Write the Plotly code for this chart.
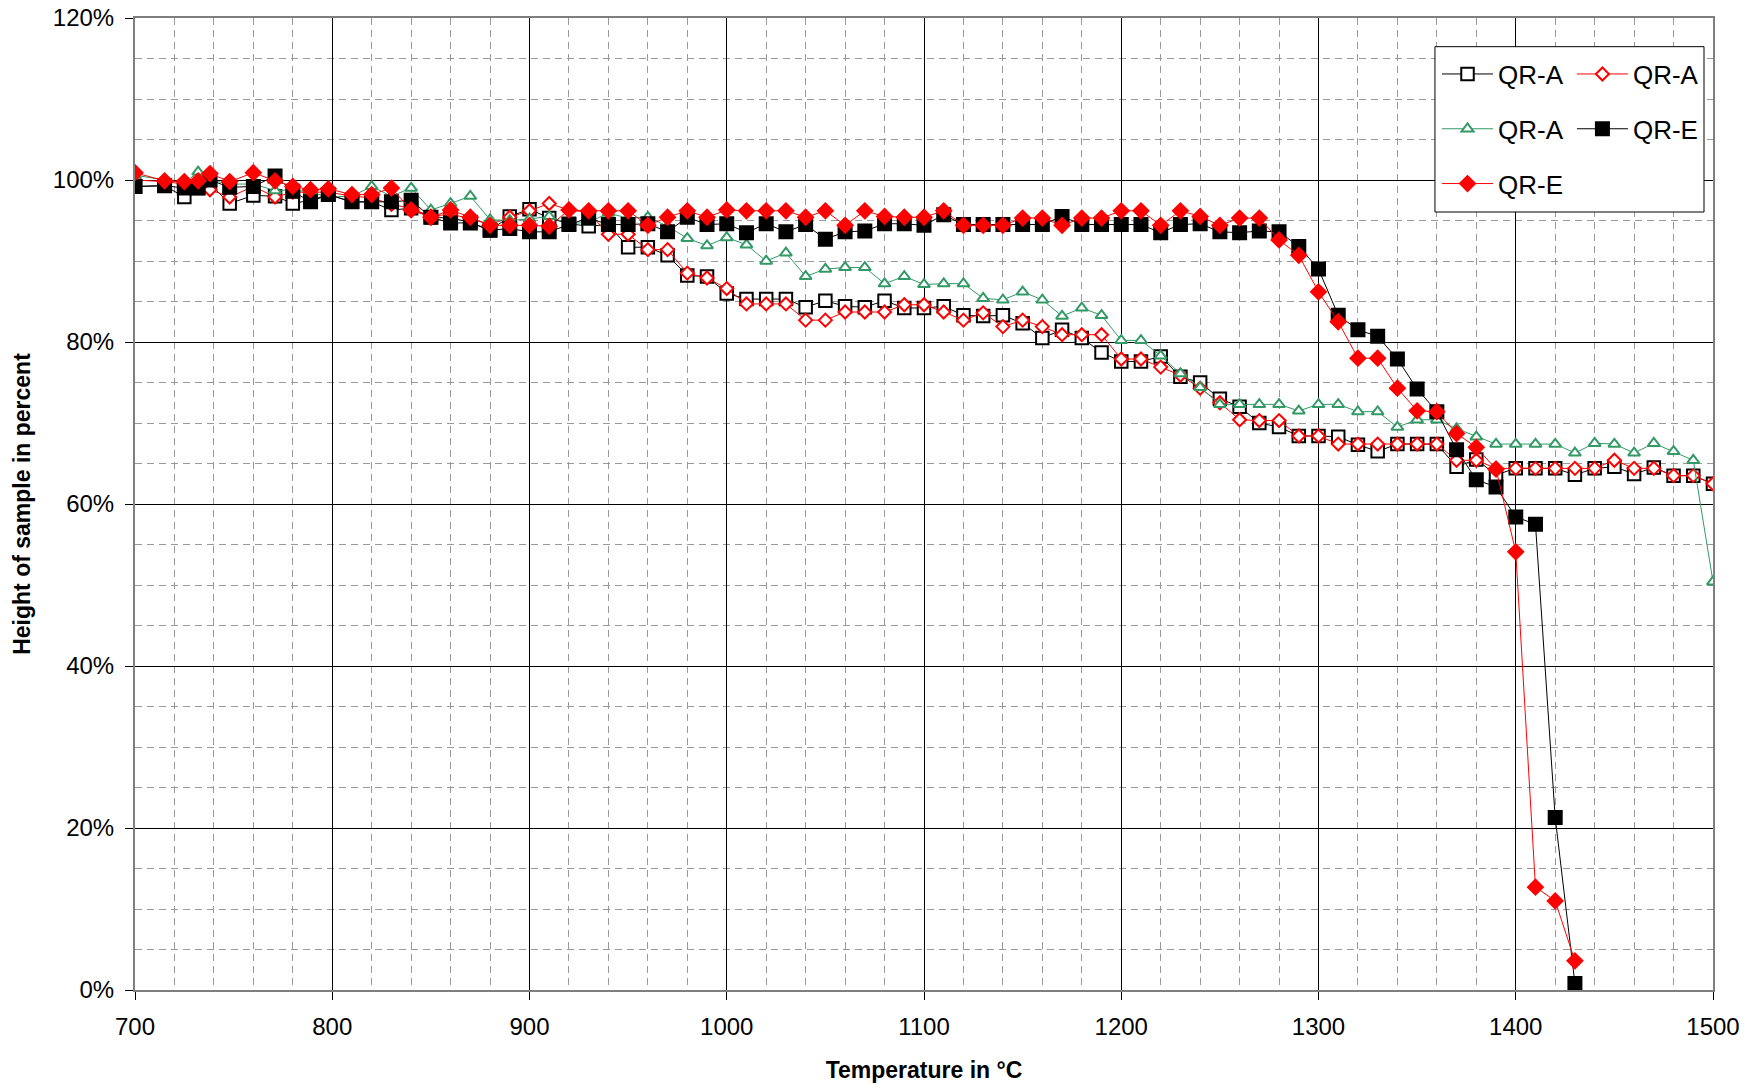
import plotly.graph_objects as go

# Temperatures (°C) of the measurement steps
temps = [700, 715, 725, 732, 738, 748, 760, 771, 780, 789, 798,
         810, 820, 830, 840, 850, 860, 870, 880, 890, 900,
         910, 920, 930, 940, 950, 960, 970, 980, 990, 1000,
         1010, 1020, 1030, 1040, 1050, 1060, 1070, 1080, 1090, 1100,
         1110, 1120, 1130, 1140, 1150, 1160, 1170, 1180, 1190, 1200,
         1210, 1220, 1230, 1240, 1250, 1260, 1270, 1280, 1290, 1300,
         1310, 1320, 1330, 1340, 1350, 1360, 1370, 1380, 1390, 1400,
         1410, 1420, 1430, 1440, 1450, 1460, 1470, 1480, 1490, 1500]

# Sample height in percent of the initial height
qra_square = [99.2, 99.3, 97.9, 99.0, 99.5, 97.1, 98.1, 98.0, 97.1, 97.5, 98.2,
              97.3, 97.3, 96.3, 96.5, 95.4, 95.3, 94.8, 93.8, 95.5, 96.4,
              95.3, 94.6, 94.3, 94.5, 91.7, 91.7, 90.7, 88.2, 88.1, 86.0,
              85.3, 85.3, 85.3, 84.3, 85.1, 84.4, 84.3, 85.1, 84.2, 84.2,
              84.4, 83.3, 83.2, 83.3, 82.3, 80.5, 81.5, 80.5, 78.7, 77.6,
              77.6, 78.2, 75.7, 75.0, 73.0, 72.0, 70.0, 69.5, 68.4, 68.4,
              68.3, 67.3, 66.5, 67.4, 67.4, 67.4, 64.6, 65.5, 63.6, 64.4,
              64.4, 64.4, 63.6, 64.4, 64.6, 63.7, 64.5, 63.5, 63.5, 62.5]

qra_diamond = [100.0, 99.8, 99.5, 99.5, 98.8, 97.9, 99.2, 97.9, 98.5, 98.5, 98.5,
               98.0, 97.8, 97.0, 96.5, 95.5, 95.8, 95.2, 94.5, 95.4, 96.2,
               97.1, 96.3, 96.0, 93.3, 93.3, 91.4, 91.4, 88.5, 87.9, 86.6,
               84.7, 84.7, 84.7, 82.7, 82.7, 83.7, 83.7, 83.7, 84.6, 84.6,
               83.7, 82.7, 83.6, 81.9, 82.7, 81.9, 80.9, 80.9, 80.9, 77.9,
               77.9, 76.9, 75.9, 74.3, 72.5, 70.4, 70.3, 70.3, 68.4, 68.4,
               67.4, 67.4, 67.4, 67.4, 67.4, 67.4, 65.4, 65.4, 64.4, 64.4,
               64.4, 64.4, 64.4, 64.4, 65.4, 64.4, 64.4, 63.5, 63.5, 62.5]

qra_triangle = [100.6, 100.0, 99.6, 101.0, 100.0, 99.5, 99.5, 98.7, 98.8, 98.5, 97.9,
                98.0, 99.2, 98.0, 99.0, 96.3, 97.1, 98.0, 95.1, 95.0, 95.2,
                95.5, 94.6, 94.8, 95.9, 95.3, 95.4, 94.3, 92.8, 91.9, 92.9,
                92.0, 90.0, 91.0, 88.1, 89.0, 89.2, 89.2, 87.2, 88.1, 87.1,
                87.2, 87.2, 85.4, 85.2, 86.2, 85.2, 83.2, 84.2, 83.3, 80.2,
                80.2, 78.3, 76.1, 74.4, 72.3, 72.3, 72.3, 72.3, 71.5, 72.3,
                72.3, 71.4, 71.4, 69.5, 70.4, 70.4, 69.3, 68.3, 67.4, 67.4,
                67.4, 67.4, 66.3, 67.5, 67.4, 66.3, 67.5, 66.5, 65.4, 50.4]

qre_square = [99.2, 99.3, 99.0, 99.0, 100.0, 99.1, 99.2, 100.5, 98.6, 97.3, 98.2,
              97.3, 97.3, 97.3, 97.5, 95.4, 94.7, 94.7, 93.8, 94.0, 93.6,
              93.6, 94.5, 95.3, 94.5, 94.5, 94.6, 93.6, 95.4, 94.5, 94.6,
              93.5, 94.6, 93.6, 94.5, 92.7, 93.6, 93.7, 94.6, 94.6, 94.4,
              95.7, 94.5, 94.5, 94.5, 94.5, 94.5, 95.5, 94.5, 94.5, 94.5,
              94.5, 93.5, 94.5, 94.6, 93.6, 93.5, 93.7, 93.6, 91.8, 89.0,
              83.3, 81.5, 80.7, 77.9, 74.2, 71.4, 66.7, 63.0, 62.1, 58.4,
              57.5, 21.3, 0.8]

qre_diamond = [100.9, 99.9, 99.8, 99.9, 100.8, 99.8, 100.9, 99.9, 99.2, 98.8, 98.9,
               98.2, 98.2, 99.0, 96.3, 95.4, 96.3, 95.4, 94.4, 94.4, 94.4,
               94.3, 96.3, 96.2, 96.2, 96.2, 94.4, 95.4, 96.2, 95.4, 96.3,
               96.2, 96.2, 96.2, 95.4, 96.2, 94.4, 96.2, 95.5, 95.4, 95.4,
               96.2, 94.4, 94.4, 94.4, 95.3, 95.3, 94.4, 95.3, 95.3, 96.2,
               96.2, 94.4, 96.2, 95.5, 94.4, 95.3, 95.3, 92.6, 90.7, 86.2,
               82.5, 78.0, 78.0, 74.3, 71.5, 71.4, 68.7, 67.0, 64.3, 54.1,
               12.7, 11.0, 3.6]

FONT = "Arial, Liberation Sans, sans-serif"
GREEN = "#339966"

fig = go.Figure()

series = [
    dict(y=qra_square, name="QR-A", color="black", symbol="square", size=12.5, fill="white", legend="legend"),
    dict(y=qra_diamond, name="QR-A", color="#FF0000", symbol="diamond", size=10, fill="white", legend="legend2"),
    dict(y=qra_triangle, name="QR-A", color=GREEN, symbol="triangle-up", size=10.5, fill="white", legend="legend"),
    dict(y=qre_square, name="QR-E", color="black", symbol="square", size=13, fill="black", legend="legend2"),
    dict(y=qre_diamond, name="QR-E", color="#FF0000", symbol="diamond", size=11.5, fill="#FF0000", legend="legend"),
]

for i, s in enumerate(series):
    fig.add_trace(go.Scatter(
        x=temps[:len(s["y"])], y=s["y"], name=s["name"],
        mode="lines+markers",
        line=dict(color=s["color"], width=1),
        marker=dict(symbol=s["symbol"], size=s["size"],
                    color=s["fill"], line=dict(color=s["color"], width=2)),
        legend=s["legend"], legendgroup=f"g{i}",
    ))

legend_common = dict(
    orientation="v", xanchor="left", yanchor="top",
    bgcolor="rgba(0,0,0,0)", borderwidth=0,
    font=dict(family=FONT, size=26, color="black"),
    itemwidth=51, tracegroupgap=18,
)

fig.update_layout(
    width=1754, height=1085,
    margin=dict(l=135, r=41, t=18, b=95),
    paper_bgcolor="white", plot_bgcolor="white",
    font=dict(family=FONT, color="black"),
    legend=dict(x=0.8251, y=0.9665, **legend_common),
    legend2=dict(x=0.9106, y=0.9665, **legend_common),
    shapes=[dict(type="rect", xref="paper", yref="paper",
                 x0=0.8238, x1=0.9943, y0=0.8004, y1=0.9705,
                 line=dict(color="black", width=1), fillcolor="white", layer="above")],
)

fig.update_xaxes(
    range=[700, 1500], dtick=100, tick0=700, automargin=False,
    showgrid=True, gridcolor="black", gridwidth=1,
    minor=dict(dtick=20, showgrid=True, gridcolor="#999999", griddash="7px,5px", gridwidth=1),
    showline=True, linecolor="#7f7f7f", linewidth=2, mirror=True,
    ticks="outside", ticklen=8, tickcolor="black",
    tickfont=dict(family=FONT, size=24, color="black"),
    ticklabelstandoff=6, zeroline=False,
    title=dict(text="Temperature in °C", standoff=23,
               font=dict(family=FONT, size=23, color="black", weight="bold")),
)
fig.update_yaxes(
    range=[0, 120], dtick=20, ticksuffix="%", automargin=False,
    showgrid=True, gridcolor="black", gridwidth=1,
    minor=dict(dtick=5, showgrid=True, gridcolor="#999999", griddash="7px,5px", gridwidth=1),
    showline=True, linecolor="#7f7f7f", linewidth=2, mirror=True,
    ticks="outside", ticklen=8, tickcolor="black",
    tickfont=dict(family=FONT, size=24, color="black"),
    ticklabelstandoff=6, zeroline=False,
    title=dict(text="Height of sample in percent", standoff=16,
               font=dict(family=FONT, size=23, color="black", weight="bold")),
)

fig.write_html("out.html")
